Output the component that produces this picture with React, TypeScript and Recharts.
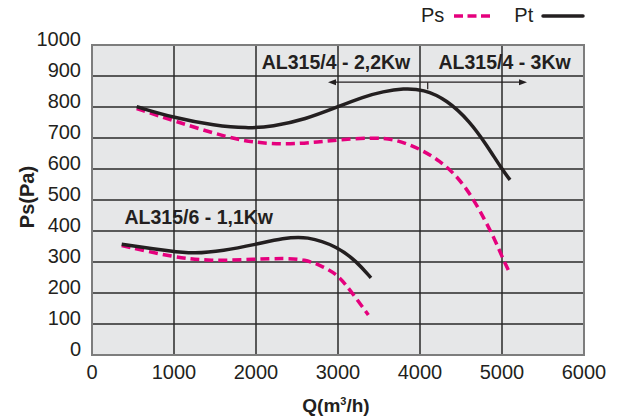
import React from 'react'
import { LineChart, Line, XAxis, YAxis, CartesianGrid, ReferenceArea, ReferenceLine, ReferenceDot, Label } from 'recharts'

// AL315/4 curves
const bigPtQ = [545, 1000, 1500, 1886, 2200, 2600, 3000, 3309, 3550, 3797, 4041, 4325, 4610, 4813, 5000, 5098]
const bigPtP = [801, 765, 740, 731, 737, 760, 801, 833, 850, 860, 857, 824, 753, 677, 599, 565]
const bigPsQ = [545, 1000, 1683, 2000, 2374, 2700, 3000, 3431, 3715, 4000, 4244, 4447, 4630, 4793, 4915, 5000, 5077]
const bigPsP = [795, 755, 699, 685, 679, 686, 694, 702, 695, 665, 626, 578, 513, 435, 371, 317, 274]

// AL315/6 curves
const smallPtQ = [362, 1000, 1236, 1600, 2000, 2333, 2618, 3000, 3228, 3402]
const smallPtP = [357, 333, 327, 336, 357, 377, 384, 349, 301, 249]
const smallPsQ = [362, 1000, 1439, 2000, 2333, 2598, 2821, 3000, 3146, 3370]
const smallPsP = [353, 315, 303, 309, 312, 309, 285, 258, 210, 129]

const xTicks = [0, 1000, 2000, 3000, 4000, 5000, 6000]
const yTicks = [0, 100, 200, 300, 400, 500, 600, 700, 800, 900, 1000]

const toRows = (q: number[], p: number[]) => q.map((v, i) => ({ q: v, p: p[i] }))

const FONT = '"Liberation Sans", Arial, Helvetica, sans-serif'
const INK = '#231f20'
const PINK = '#e5007d'

const XTick = (props: any) => (
  <text x={props.x} y={props.y} dy={16} textAnchor="middle" fontSize={20} fill={INK} fontFamily={FONT}>
    {props.payload.value}
  </text>
)

const YTick = (props: any) => (
  <text x={props.x} y={props.y - 6} dy={7} textAnchor="end" fontSize={20} fill={INK} fontFamily={FONT}>
    {props.payload.value}
  </text>
)

const Arrow = (props: any) => {
  const { x1, y1, x2, y2 } = props
  return (
    <g>
      <line x1={x1 + 4} y1={y1} x2={x2 - 4} y2={y2} stroke={INK} strokeWidth={1.3} />
      <path d={`M${x1},${y1} l8,-3 l0,6 z`} fill={INK} />
      <path d={`M${x2},${y2} l-8,-3 l0,6 z`} fill={INK} />
    </g>
  )
}

const LegendBox = () => (
  <div style={{ position: 'absolute', top: 4, left: 421, display: 'flex', alignItems: 'center', fontFamily: FONT, fontSize: 20, color: INK }}>
    <span>Ps</span>
    <svg width={48} height={10}>
      <line x1={10} y1={5} x2={46} y2={5} stroke={PINK} strokeWidth={3.5} strokeDasharray="9 4.5" />
    </svg>
    <span style={{ marginLeft: 22 }}>Pt</span>
    <svg width={52} height={10}>
      <line x1={10} y1={5} x2={50} y2={5} stroke={INK} strokeWidth={3.5} strokeLinecap="round" />
    </svg>
  </div>
)

export default function App() {
  return (
    <div style={{ position: 'absolute', left: 0, top: 0, width: 619, height: 418, background: '#fff', fontFamily: FONT }}>
      <LineChart width={619} height={418} margin={{ top: 45, right: 35, left: 0, bottom: 0 }}>
        <CartesianGrid fill="#e6e7e8" stroke="#2a2a2a" strokeWidth={1.5} />
        <XAxis
          type="number"
          dataKey="q"
          domain={[0, 6000]}
          ticks={xTicks}
          height={63}
          tickLine={false}
          axisLine={false}
          tick={<XTick />}
          interval={0}
        >
          <Label
            content={() => (
              <text x={336} y={412} textAnchor="middle" fontSize={19} fontWeight="bold" fill={INK} fontFamily={FONT}>
                Q(m<tspan fontSize={11} dy={-7}>3</tspan><tspan dy={7}>/h)</tspan>
              </text>
            )}
          />
        </XAxis>
        <YAxis
          type="number"
          dataKey="p"
          domain={[0, 1000]}
          ticks={yTicks}
          width={92}
          tickLine={false}
          axisLine={false}
          tick={<YTick />}
          tickMargin={5}
          interval={0}
        >
          <Label
            content={() => (
              <text x={0} y={0} transform="translate(34,197) rotate(-90)" textAnchor="middle" fontSize={20} fontWeight="bold" fill={INK} fontFamily={FONT}>
                Ps(Pa)
              </text>
            )}
          />
        </YAxis>
        <ReferenceArea x1={0} x2={6000} y1={0} y2={1000} fill="none" stroke="#7d7d7d" strokeWidth={2} />
        <ReferenceLine segment={[{ x: 2878, y: 880 }, { x: 5305, y: 880 }]} shape={<Arrow />} />
        <ReferenceLine segment={[{ x: 4094, y: 880 }, { x: 4094, y: 857 }]} stroke={INK} strokeWidth={1.2} />
        <Line data={toRows(smallPsQ, smallPsP)} dataKey="p" type="basis" stroke={PINK} strokeWidth={3.5} strokeDasharray="9 5" dot={false} isAnimationActive={false} />
        <Line data={toRows(smallPtQ, smallPtP)} dataKey="p" type="basis" stroke={INK} strokeWidth={3.5} dot={false} isAnimationActive={false} />
        <Line data={toRows(bigPsQ, bigPsP)} dataKey="p" type="basis" stroke={PINK} strokeWidth={3.5} strokeDasharray="9 5" dot={false} isAnimationActive={false} />
        <Line data={toRows(bigPtQ, bigPtP)} dataKey="p" type="basis" stroke={INK} strokeWidth={3.5} dot={false} isAnimationActive={false} />
        <ReferenceDot x={2976} y={944} r={0} fill="none" stroke="none">
          <Label value="AL315/4 - 2,2Kw" position="center" fontSize={19.5} fontWeight="bold" fill={INK} fontFamily={FONT} />
        </ReferenceDot>
        <ReferenceDot x={5032} y={944} r={0} fill="none" stroke="none">
          <Label value="AL315/4 - 3Kw" position="center" fontSize={19.5} fontWeight="bold" fill={INK} fontFamily={FONT} />
        </ReferenceDot>
        <ReferenceDot x={1302} y={444} r={0} fill="none" stroke="none">
          <Label value="AL315/6 - 1,1Kw" position="center" fontSize={19.5} fontWeight="bold" fill={INK} fontFamily={FONT} />
        </ReferenceDot>
      </LineChart>
      <LegendBox />
    </div>
  )
}
